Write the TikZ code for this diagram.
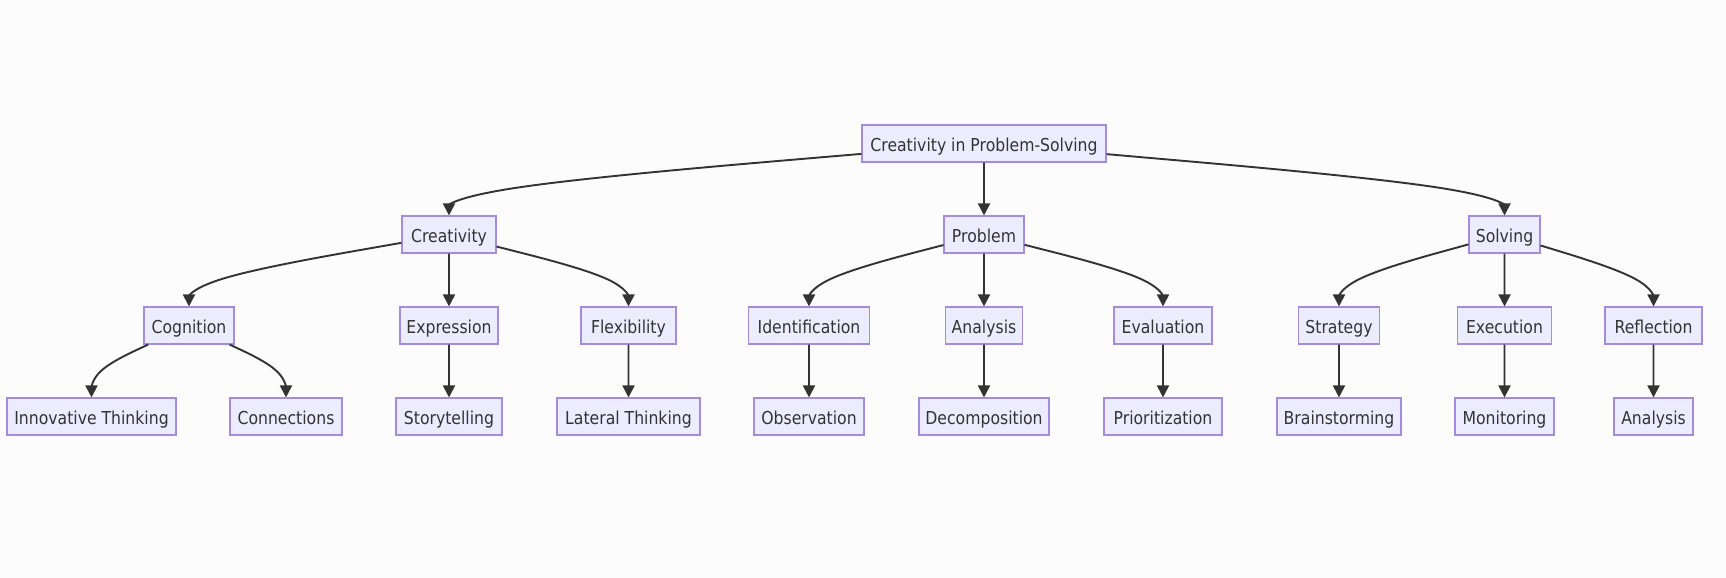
\documentclass[tikz,border=0pt]{standalone}
\usepackage{fontspec}
\setmainfont{DejaVu Sans}[FakeStretch=0.88]
\usetikzlibrary{arrows.meta,calc}
\definecolor{bgc}{HTML}{FCFCFC}
\definecolor{boxfill}{HTML}{ECECFF}
\definecolor{boxline}{HTML}{A58BE0}
\definecolor{ink}{HTML}{333333}
\tikzset{
  box/.style={draw=boxline, fill=boxfill, line width=1.1pt, text=ink,
    minimum height=37pt, inner xsep=0pt, inner ysep=0pt,
    text height=15pt, text depth=0pt,
    font=\fontsize{17.8pt}{20pt}\selectfont},
  edge/.style={draw=ink, line width=1.9pt, -{Triangle[length=12pt,width=12pt]}},
}
\newcommand\bedge[2]{%
  \coordinate (bk) at ($(#2.north)!0.5!(#2.north |- #1.south)$);
  \path (#1) -- (bk) coordinate[pos=0] (b0);
  \draw[edge] (b0) -- ($(b0)!0.166667!(bk)$)
    .. controls ($(b0)!0.333333!(bk)$) and ($(b0)!0.666667!(bk)$)
    .. ($0.166667*(b0)+0.666667*(bk)+0.166667*(#2.north)$)
    .. controls ($(bk)!0.333333!(#2.north)$) and ($(bk)!0.666667!(#2.north)$)
    .. (#2.north);
}
\begin{document}
\begin{tikzpicture}[x=1pt,y=-1pt]
\fill[bgc] (0,0) rectangle (1726,578);
\useasboundingbox (0,0) rectangle (1726,578);
% row 1
\node[box, minimum width=244pt] (root) at (984,143.5) {Creativity in Problem-Solving};
% row 2
\node[box, minimum width=94pt] (cre) at (449,234.5) {Creativity};
\node[box, minimum width=80pt] (prob) at (984,234.5) {Problem};
\node[box, minimum width=71pt] (solv) at (1504.5,234.5) {Solving};
% row 3
\node[box, minimum width=90pt] (cog) at (189,325.5) {Cognition};
\node[box, minimum width=98pt] (expr) at (449,325.5) {Expression};
\node[box, minimum width=95pt] (flex) at (628.5,325.5) {Flexibility};
\node[box, minimum width=121pt] (ident) at (809,325.5) {Identification};
\node[box, minimum width=77pt] (anal) at (984,325.5) {Analysis};
\node[box, minimum width=98pt] (eval) at (1163,325.5) {Evaluation};
\node[box, minimum width=81pt] (strat) at (1339,325.5) {Strategy};
\node[box, minimum width=94pt] (exec) at (1504.5,325.5) {Execution};
\node[box, minimum width=97pt] (refl) at (1653.5,325.5) {Reflection};
% row 4
\node[box, minimum width=169pt] (innov) at (91.5,416.5) {Innovative Thinking};
\node[box, minimum width=112pt] (conn) at (286,416.5) {Connections};
\node[box, minimum width=106pt] (story) at (449,416.5) {Storytelling};
\node[box, minimum width=143pt] (lat) at (628.5,416.5) {Lateral Thinking};
\node[box, minimum width=110pt] (obs) at (809,416.5) {Observation};
\node[box, minimum width=130pt] (decomp) at (984,416.5) {Decomposition};
\node[box, minimum width=118pt] (prio) at (1163,416.5) {Prioritization};
\node[box, minimum width=124pt] (brain) at (1339,416.5) {Brainstorming};
\node[box, minimum width=99pt] (monit) at (1504.5,416.5) {Monitoring};
\node[box, minimum width=79pt] (analb) at (1653.5,416.5) {Analysis};
% edges
\bedge{root}{cre}
\bedge{root}{prob}
\bedge{root}{solv}
\bedge{cre}{cog}
\bedge{cre}{expr}
\bedge{cre}{flex}
\bedge{prob}{ident}
\bedge{prob}{anal}
\bedge{prob}{eval}
\bedge{solv}{strat}
\bedge{solv}{exec}
\bedge{solv}{refl}
\bedge{cog}{innov}
\bedge{cog}{conn}
\bedge{expr}{story}
\bedge{flex}{lat}
\bedge{ident}{obs}
\bedge{anal}{decomp}
\bedge{eval}{prio}
\bedge{strat}{brain}
\bedge{exec}{monit}
\bedge{refl}{analb}
\end{tikzpicture}
\end{document}
